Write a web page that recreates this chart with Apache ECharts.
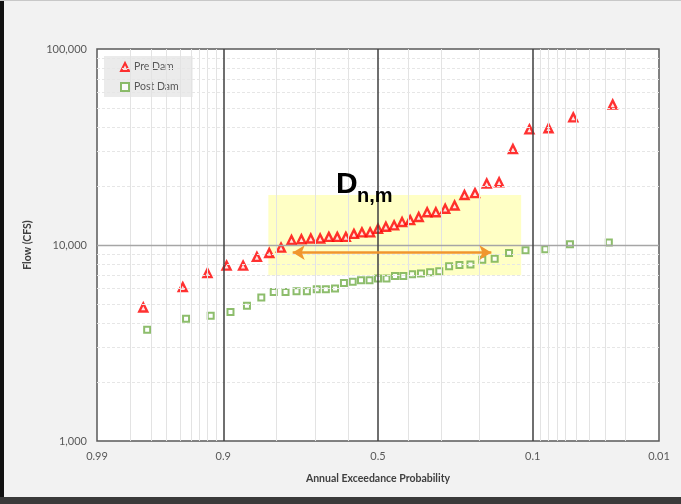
<!DOCTYPE html>
<html>
<head>
<meta charset="utf-8">
<script src="https://cdn.jsdelivr.net/npm/echarts@6/dist/echarts.min.js"></script>
<style>
  html, body { margin: 0; padding: 0; background: #f2f2f2; }
  #chart { width: 681px; height: 504px; }
</style>
</head>
<body>
<div id="chart"></div>
<script>
// Annual exceedance probabilities (plotting positions) and ranked flows, in cfs
const preDamAep = [0.974, 0.947, 0.921, 0.895, 0.868, 0.842, 0.816, 0.789, 0.763, 0.737,
  0.711, 0.684, 0.658, 0.632, 0.605, 0.579, 0.553, 0.526, 0.500, 0.474,
  0.447, 0.421, 0.395, 0.368, 0.342, 0.316, 0.289, 0.263, 0.237, 0.211,
  0.184, 0.158, 0.132, 0.105, 0.079, 0.053, 0.026];
const preDamFlow = [4800, 6100, 7200, 7850, 7850, 8700, 9100, 9700, 10600, 10700,
  10800, 10800, 11000, 11000, 11000, 11400, 11600, 11600, 12100, 12400,
  12600, 13100, 13400, 13900, 14700, 14700, 15300, 15900, 18000, 18400,
  20600, 20900, 30900, 38900, 39400, 44800, 52100];

const postDamAep = [0.972, 0.944, 0.917, 0.889, 0.861, 0.833, 0.806, 0.778, 0.750, 0.722,
  0.694, 0.667, 0.639, 0.611, 0.583, 0.556, 0.528, 0.500, 0.472, 0.444,
  0.417, 0.389, 0.361, 0.333, 0.306, 0.278, 0.250, 0.222, 0.194, 0.167,
  0.139, 0.111, 0.083, 0.056, 0.028];
const postDamFlow = [3700, 4200, 4350, 4550, 4900, 5400, 5750, 5750, 5800, 5800,
  5950, 5950, 6000, 6400, 6500, 6600, 6600, 6750, 6750, 6950,
  6950, 7100, 7150, 7250, 7350, 7800, 7900, 7950, 8400, 8500,
  9100, 9400, 9500, 10100, 10300];

// Probability-axis labels and gridlines
const tickAep = [0.99, 0.9, 0.5, 0.1, 0.01];
const tickText = ['0.99', '0.9', '0.5', '0.1', '0.01'];
const majorAep = [0.9, 0.5, 0.1];
const minorAep = [0.98, 0.97, 0.96, 0.95, 0.94, 0.93, 0.92, 0.91,
  0.8, 0.7, 0.6, 0.4, 0.3, 0.2,
  0.09, 0.08, 0.07, 0.06, 0.05, 0.04, 0.03, 0.02];
const majorFlow = [10000];
const minorFlow = [2000, 3000, 4000, 5000, 6000, 7000, 8000, 9000,
  20000, 30000, 40000, 50000, 60000, 70000, 80000, 90000];

// Highlighted region and the D(n,m) distance arrow
const bandAep = [0.818, 0.118];
const bandFlow = [18000, 7000];
const arrowAep = [0.76, 0.174];
const arrowFlow = 9150;
const labelAep = 0.636;
const labelFlow = 17800;

// Inverse standard normal CDF (Acklam's rational approximation)
function normInv(p) {
  const a = [-3.969683028665376e+01, 2.209460984245205e+02, -2.759285104469687e+02,
    1.383577518672690e+02, -3.066479806614716e+01, 2.506628277459239e+00];
  const b = [-5.447609879822406e+01, 1.615858368580409e+02, -1.556989798598866e+02,
    6.680131188771972e+01, -1.328068155288572e+01];
  const c = [-7.784894002430293e-03, -3.223964580411365e-01, -2.400758277161838e+00,
    -2.549732539343734e+00, 4.374664141464968e+00, 2.938163982698783e+00];
  const d = [7.784695709041462e-03, 3.224671290700398e-01, 2.445134137142996e+00,
    3.754408661907416e+00];
  const pl = 0.02425, ph = 1 - pl;
  let q, r;
  if (p < pl) {
    q = Math.sqrt(-2 * Math.log(p));
    return (((((c[0] * q + c[1]) * q + c[2]) * q + c[3]) * q + c[4]) * q + c[5]) /
      ((((d[0] * q + d[1]) * q + d[2]) * q + d[3]) * q + 1);
  }
  if (p <= ph) {
    q = p - 0.5; r = q * q;
    return (((((a[0] * r + a[1]) * r + a[2]) * r + a[3]) * r + a[4]) * r + a[5]) * q /
      (((((b[0] * r + b[1]) * r + b[2]) * r + b[3]) * r + b[4]) * r + 1);
  }
  q = Math.sqrt(-2 * Math.log(1 - p));
  return -(((((c[0] * q + c[1]) * q + c[2]) * q + c[3]) * q + c[4]) * q + c[5]) /
    ((((d[0] * q + d[1]) * q + d[2]) * q + d[3]) * q + 1);
}
// exceedance probability -> standard normal variate of non-exceedance
const toZ = aep => normInv(1 - aep);

const zMin = toZ(tickAep[0]);
const zMax = toZ(tickAep[tickAep.length - 1]);
const tickZ = tickAep.map(toZ);

function withCommas(v) {
  return String(Math.round(v)).replace(/\B(?=(\d{3})+(?!\d))/g, ',');
}

const labelFont = 'Lato, "Open Sans", sans-serif';

const gridLines = [];
minorAep.forEach(p => gridLines.push({ xAxis: toZ(p), lineStyle: { color: '#e3e3e3', width: 1, type: 'solid' } }));
minorFlow.forEach(v => gridLines.push({ yAxis: v, lineStyle: { color: '#e6e6e6', width: 1, type: [3, 2] } }));
majorFlow.forEach(v => gridLines.push({ yAxis: v, lineStyle: { color: '#a6a6a6', width: 1.3, type: 'solid' } }));
majorAep.forEach(p => gridLines.push({ xAxis: toZ(p), lineStyle: { color: '#3f3f3f', width: 1.5, type: 'solid' } }));

const chart = echarts.init(document.getElementById('chart'), null, { renderer: 'canvas' });

chart.setOption({
  backgroundColor: '#f2f2f2',
  animation: false,
  grid: {
    left: 97, right: 22, top: 49, bottom: 63,
    show: true, backgroundColor: '#ffffff', borderColor: '#595959', borderWidth: 1.5
  },
  legend: {
    data: ['Pre Dam', 'Post Dam'],
    orient: 'vertical',
    left: 104, top: 56,
    backgroundColor: '#ebebeb',
    padding: [5, 14, 4, 16],
    itemGap: 8,
    itemWidth: 8, itemHeight: 8,
    textStyle: { color: '#595959', fontSize: 10.5, fontFamily: labelFont, lineHeight: 12 }
  },
  xAxis: {
    type: 'value',
    min: zMin, max: zMax,
    splitLine: { show: false },
    axisLine: { show: false },
    axisTick: { show: false },
    axisLabel: {
      customValues: tickZ,
      showMinLabel: true, showMaxLabel: true,
      margin: 10,
      color: '#595959', fontSize: 11, fontFamily: labelFont,
      formatter: v => {
        let best = 0;
        tickZ.forEach((z, i) => { if (Math.abs(z - v) < Math.abs(tickZ[best] - v)) best = i; });
        return tickText[best];
      }
    },
    name: 'Annual Exceedance Probability',
    nameLocation: 'middle',
    nameGap: 32,
    nameTextStyle: { color: '#404040', fontSize: 10.5, fontWeight: 'bold', fontFamily: labelFont }
  },
  yAxis: {
    type: 'log', logBase: 10,
    min: 1000, max: 100000,
    splitLine: { show: false },
    axisLine: { show: false },
    axisTick: { show: false },
    axisLabel: {
      margin: 10,
      color: '#595959', fontSize: 11, fontFamily: labelFont,
      formatter: v => withCommas(v)
    },
    name: 'Flow (CFS)',
    nameLocation: 'middle',
    nameGap: 64,
    nameTextStyle: { color: '#404040', fontSize: 10.5, fontWeight: 'bold', fontFamily: labelFont }
  },
  series: [
    {
      name: 'grid',
      type: 'line',
      data: [],
      z: 1,
      silent: true,
      markLine: {
        silent: true,
        symbol: 'none',
        label: { show: false },
        animation: false,
        data: gridLines
      }
    },
    {
      name: 'band',
      type: 'line',
      data: [],
      z: 2,
      silent: true,
      markArea: {
        silent: true,
        itemStyle: { color: 'rgba(255, 255, 140, 0.5)' },
        data: [[
          { coord: [toZ(bandAep[0]), bandFlow[0]] },
          { coord: [toZ(bandAep[1]), bandFlow[1]] }
        ]]
      },
      markLine: {
        silent: true,
        symbol: ['arrow', 'arrow'],
        symbolSize: [11, 12],
        label: { show: false },
        lineStyle: { color: '#f0962e', width: 2.5, type: 'solid' },
        data: [[
          { coord: [toZ(arrowAep[0]), arrowFlow] },
          { coord: [toZ(arrowAep[1]), arrowFlow] }
        ]]
      }
    },
    {
      name: 'Pre Dam',
      type: 'scatter',
      z: 4,
      symbol: 'triangle',
      symbolSize: 8,
      itemStyle: { color: '#ffe0e0', borderColor: '#ff0000', borderWidth: 2.4 },
      data: preDamAep.map((p, i) => [toZ(p), preDamFlow[i]])
    },
    {
      name: 'Post Dam',
      type: 'scatter',
      z: 3,
      symbol: 'rect',
      symbolSize: 6,
      itemStyle: { color: '#ffffff', borderColor: '#70ad47', borderWidth: 2 },
      data: postDamAep.map((p, i) => [toZ(p), postDamFlow[i]])
    }
  ]
});

// D(n,m) annotation, anchored to the data coordinates above the band
const anchor = chart.convertToPixel({ xAxisIndex: 0, yAxisIndex: 0 }, [toZ(labelAep), labelFlow]);
chart.setOption({
  graphic: [
    {
      type: 'text', x: anchor[0], y: anchor[1] - 11, z: 10,
      style: { text: 'D', font: 'bold 30px "Liberation Sans", Arial, sans-serif', fill: '#000', textAlign: 'left', textVerticalAlign: 'middle' }
    },
    {
      type: 'text', x: anchor[0] + 21, y: anchor[1] + 1, z: 10,
      style: { text: 'n,m', font: 'bold 20px "Liberation Sans", Arial, sans-serif', fill: '#000', textAlign: 'left', textVerticalAlign: 'middle' }
    },
    // window frame edges
    { type: 'rect', shape: { x: 0, y: 0, width: 4, height: 498 }, style: { fill: '#111' }, silent: true },
    { type: 'rect', shape: { x: 0, y: 497, width: 681, height: 7 }, style: { fill: '#3a3a3a' }, silent: true },
    { type: 'rect', shape: { x: 0, y: 0, width: 681, height: 1 }, style: { fill: '#c8c8c8' }, silent: true }
  ]
});
</script>
</body>
</html>
